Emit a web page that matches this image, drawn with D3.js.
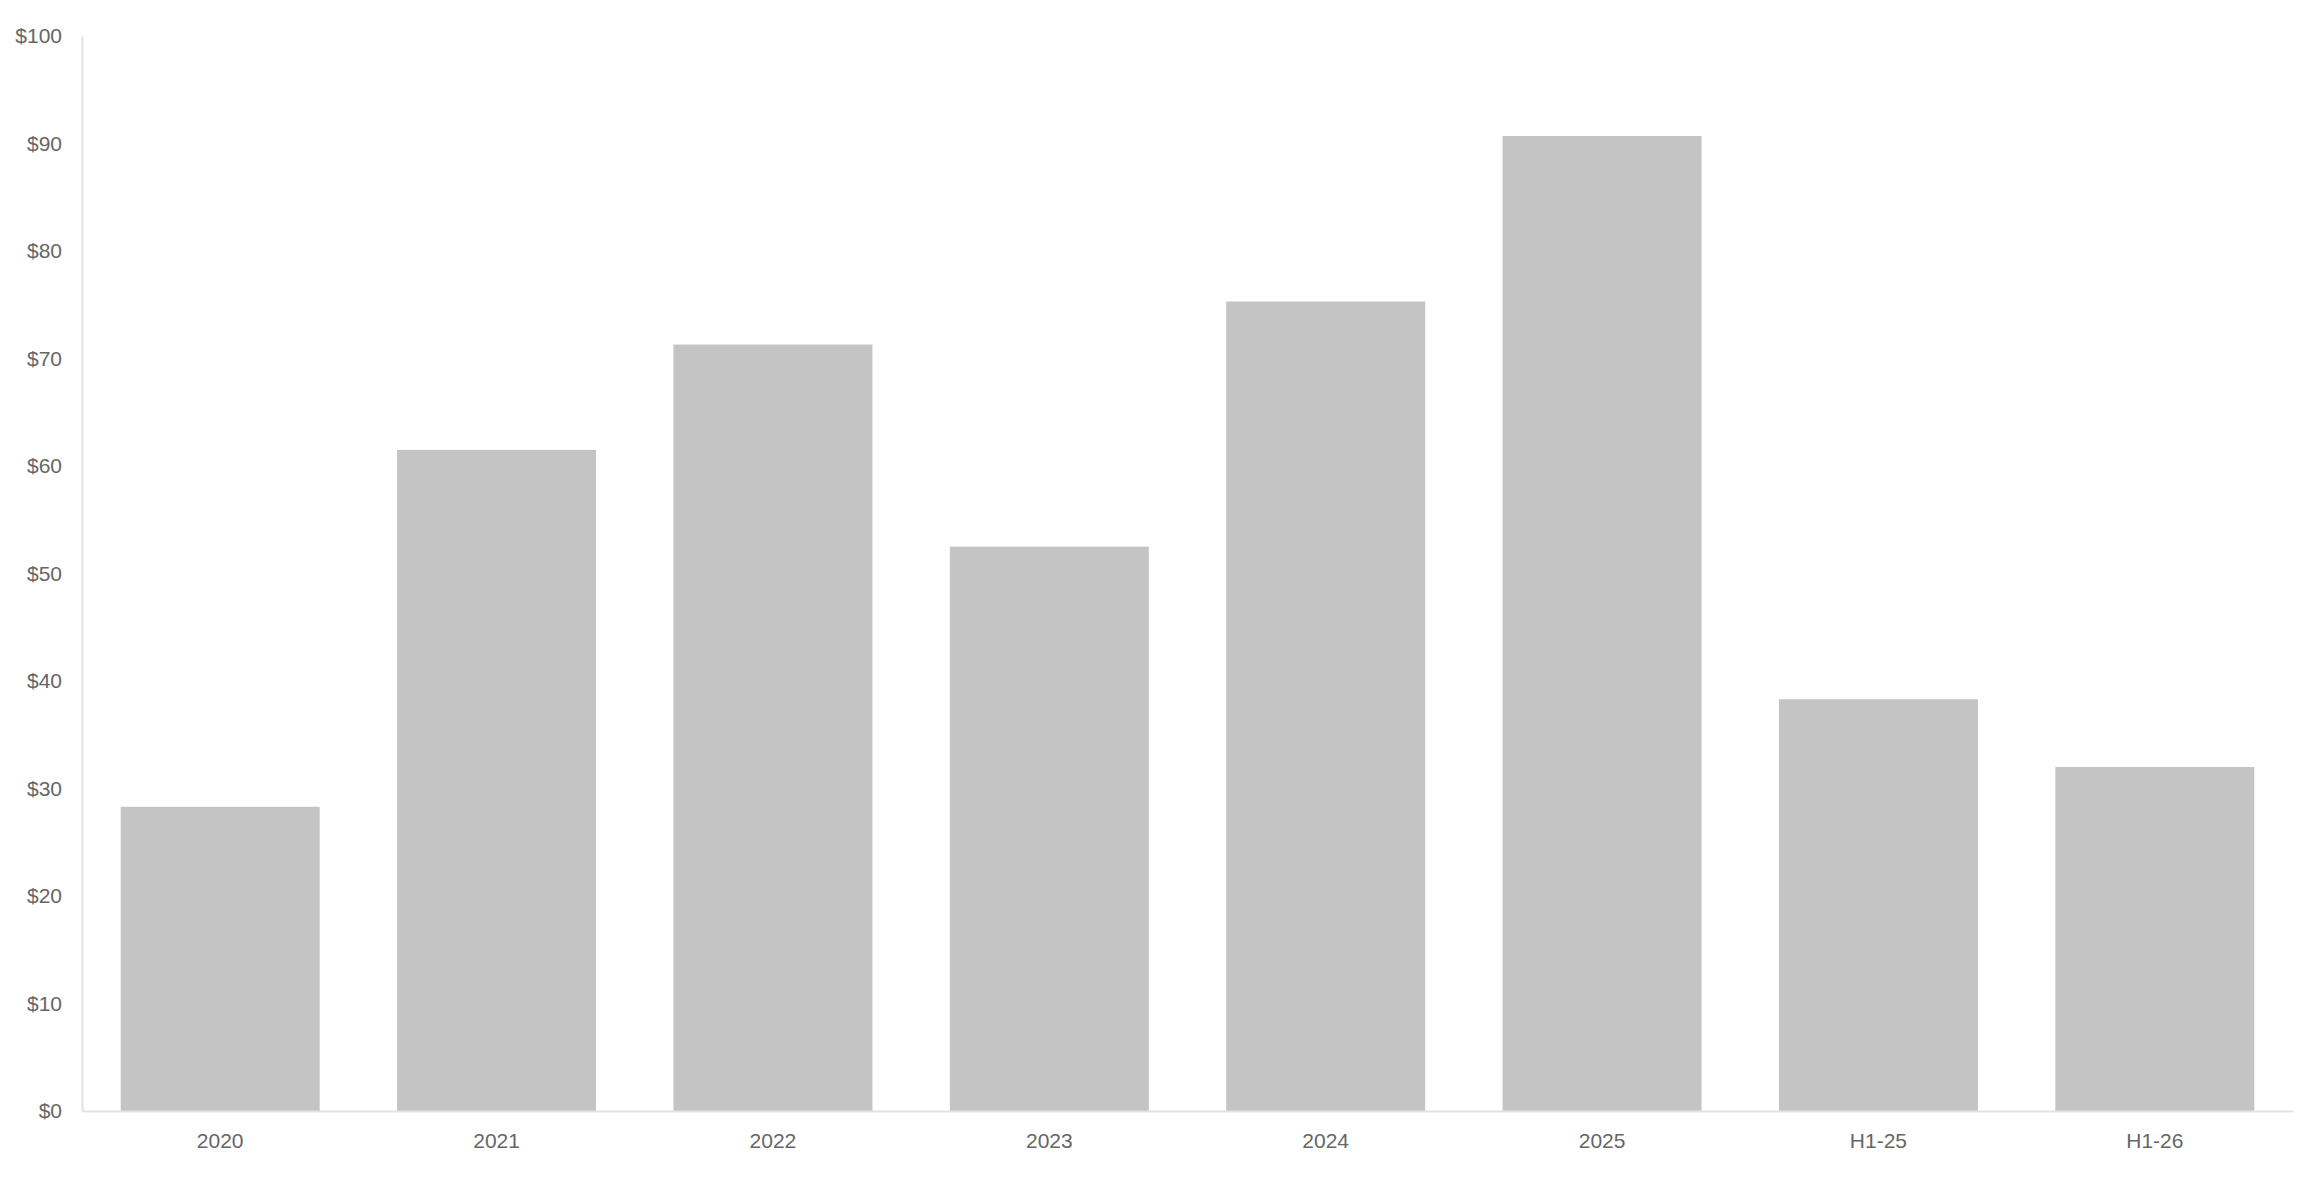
<!DOCTYPE html>
<html>
<head>
<meta charset="utf-8">
<script src="https://cdn.jsdelivr.net/npm/d3@7"></script>
<style>
  body { margin: 0; background: #fff; }
  svg { display: block; }
  text { font-family: "Liberation Sans", Arial, sans-serif; }
</style>
</head>
<body>
<svg width="2316" height="1182"></svg>
<script>
const categories = ["2020", "2021", "2022", "2023", "2024", "2025", "H1-25", "H1-26"];
const values = [28.3, 61.5, 71.3, 52.5, 75.3, 90.7, 38.3, 32.0];
const yTicks = [0, 10, 20, 30, 40, 50, 60, 70, 80, 90, 100];

const svg = d3.select("svg"),
    margin = { top: 36, right: 23, bottom: 71, left: 82 },
    width = +svg.attr("width") - margin.left - margin.right,
    height = +svg.attr("height") - margin.top - margin.bottom;

const g = svg.append("g").attr("transform", `translate(${margin.left},${margin.top})`);

const x = d3.scaleBand().domain(categories).range([0, width])
    .paddingInner(0.28).paddingOuter(0.14);
const y = d3.scaleLinear().domain([0, 100]).range([height, 0]);

// bars
g.selectAll("rect.bar")
    .data(categories)
    .join("rect")
    .attr("class", "bar")
    .attr("x", d => x(d))
    .attr("width", x.bandwidth())
    .attr("y", (d, i) => y(values[i]))
    .attr("height", (d, i) => y(0) - y(values[i]))
    .attr("fill", "#c4c4c4");

// y axis
const yAxis = g.append("g")
    .call(d3.axisLeft(y).tickValues(yTicks).tickSize(0).tickPadding(20).tickFormat(d => "$" + d));
yAxis.select(".domain").attr("stroke", "#e2e2e2").attr("stroke-width", 2);
yAxis.selectAll("text").attr("font-size", 21).attr("fill", "#666");

// x axis
const xAxis = g.append("g")
    .attr("transform", `translate(0,${height})`)
    .call(d3.axisBottom(x).tickSize(0).tickPadding(22));
xAxis.select(".domain").attr("stroke", "#e2e2e2").attr("stroke-width", 2);
xAxis.selectAll("text").attr("font-size", 21).attr("fill", "#666");
</script>
</body>
</html>
